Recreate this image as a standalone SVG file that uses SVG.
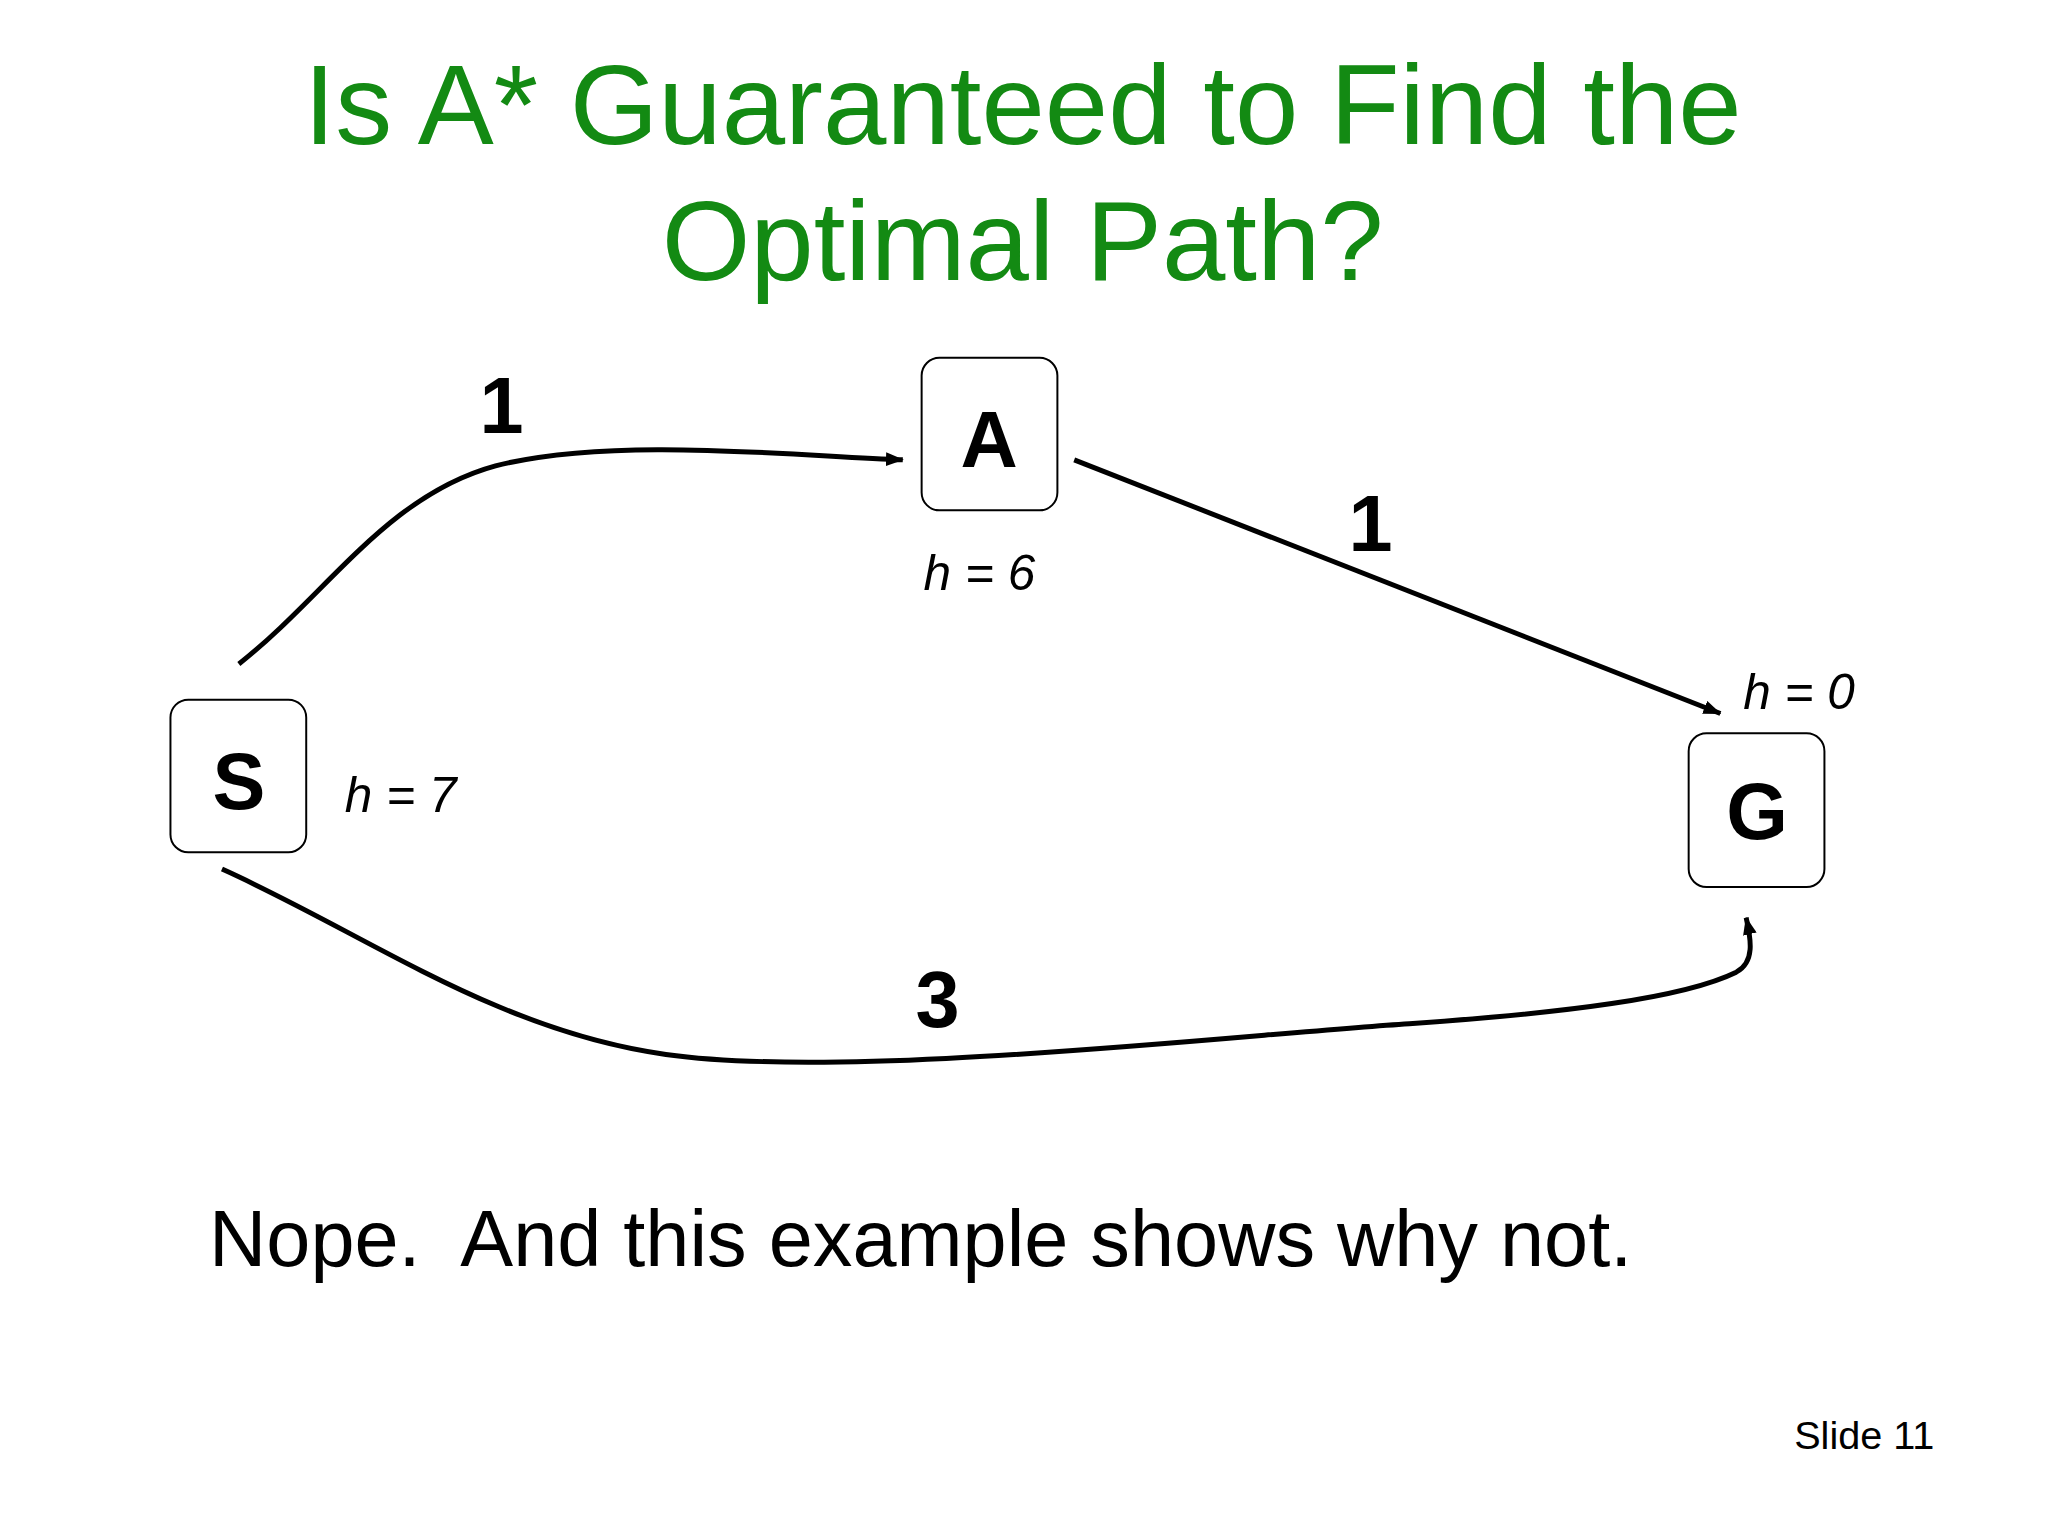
<svg xmlns="http://www.w3.org/2000/svg" width="2048" height="1536" viewBox="0 0 2048 1536">
<defs>
<style>
.t{font-family:"Liberation Sans",Arial,sans-serif;fill:#138a13;font-size:115px;text-anchor:middle}
.n{font-family:"Liberation Sans",Arial,sans-serif;font-weight:bold;font-size:80px;text-anchor:middle;fill:#000}
.h{font-family:"Liberation Sans",Arial,sans-serif;font-style:italic;font-size:50px;fill:#000}
.box{fill:#fff;stroke:#000;stroke-width:2}
.e{fill:none;stroke:#000;stroke-width:5}
</style>
<marker id="arr" markerWidth="18" markerHeight="14" refX="17" refY="7" orient="auto" markerUnits="userSpaceOnUse"><path d="M0,0 L18,7 L0,14 z" fill="#000"/></marker>
</defs>
<rect width="2048" height="1536" fill="#fff"/>
<g transform="scale(0.991)">
<text class="t" x="1032" y="145">Is A* Guaranteed to Find the</text>
<text class="t" x="1032" y="283">Optimal Path?</text>
<g id="connectors">
<path class="e" marker-end="url(#arr)" d="M241,670 C330,600 390,500 500,470 C620,440 800,460 911,464"/>
<path class="e" marker-end="url(#arr)" d="M1084,464 L1736,720"/>
<path class="e" marker-end="url(#arr)" d="M224,877 C369,942 500,1040 672,1064 C856,1090 1251,1044 1422,1033 C1580,1022 1699,1007 1752,981 C1771,971 1767,948 1762,926"/>
<text class="n" x="506" y="437">1</text>
<text class="n" x="1383" y="556">1</text>
<text class="n" x="946" y="1036">3</text>
</g>
<g id="A"><rect class="box" x="930" y="361" width="137" height="154" rx="18"/><text class="n" x="998" y="471">A</text><text class="h" x="932" y="595">h = 6</text></g>
<g id="S"><rect class="box" x="172" y="706" width="137" height="154" rx="18"/><text class="n" x="241" y="816">S</text><text class="h" x="348" y="819">h = 7</text></g>
<g id="G"><rect class="box" x="1704" y="740" width="137" height="155" rx="18"/><text class="n" x="1773" y="847">G</text><text class="h" x="1759" y="715">h = 0</text></g>
<text x="211" y="1277" font-family="Liberation Sans,Arial,sans-serif" font-size="80">Nope.&#160; And this example shows why not.</text>
<text x="1952" y="1462" text-anchor="end" font-family="Liberation Sans,Arial,sans-serif" font-size="40">Slide 11</text>
</g>
</svg>
